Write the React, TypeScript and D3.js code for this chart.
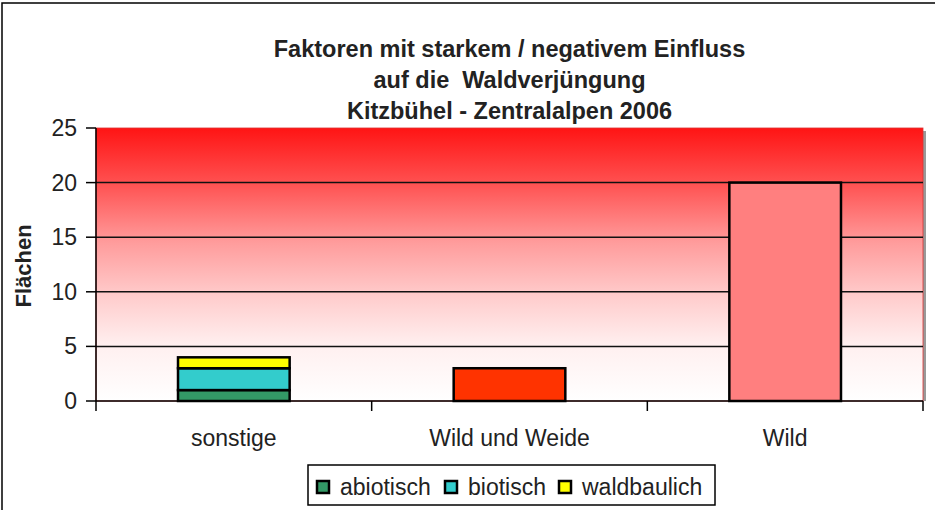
import React from 'react';
import * as d3 from 'd3';

// chart data
const categories = ['sonstige', 'Wild und Weide', 'Wild'];
const stackKeys = ['abiotisch', 'biotisch', 'waldbaulich'];
const stackValues = [1, 2, 1]; // sonstige
const wildWeide = 3;
const wild = 20;
const yTicks = [0, 5, 10, 15, 20, 25];
const titleLines = [
  'Faktoren mit starkem / negativem Einfluss',
  'auf die  Waldverjüngung',
  'Kitzbühel - Zentralalpen 2006',
];
const stackColors = ['#339966', '#33cccc', '#ffff00'];

export default function App() {
  const width = 935;
  const height = 510;
  const margin = { top: 128, right: 12, bottom: 109, left: 96 };
  const w = width - margin.left - margin.right;
  const h = height - margin.top - margin.bottom;
  const font = 'Arial, "Liberation Sans", sans-serif';

  const x = d3.scaleBand().domain(categories).range([0, w]);
  const y = d3.scaleLinear().domain([0, 25]).range([h, 0]);
  const barW = x.bandwidth() * 0.405;
  const barX = (c: string) => x(c)! + (x.bandwidth() - barW) / 2;

  const stacked = d3.stack<number[]>()
    .keys(stackKeys.map((_, i) => String(i)))
    .value((d, k) => d[+k])([stackValues]);

  const legendItems = [
    { label: stackKeys[0], sx: 317, tx: 340 },
    { label: stackKeys[1], sx: 445, tx: 468 },
    { label: stackKeys[2], sx: 559, tx: 582 },
  ];

  return (
    <svg width={width} height={height} style={{ position: 'absolute', left: 0, top: 0 }}>
      <defs>
        <linearGradient id="bg" x1="0" y1="0" x2="0" y2="1">
          <stop offset="0%" stopColor="#ff1414" />
          <stop offset="20%" stopColor="#ff5050" />
          <stop offset="42%" stopColor="#ff9c9c" />
          <stop offset="62%" stopColor="#ffcdcd" />
          <stop offset="80%" stopColor="#fff0f0" />
          <stop offset="100%" stopColor="#ffffff" />
        </linearGradient>
      </defs>
      <rect width={width} height={height} fill="#fff" />
      <rect x={2} y={3} width={width + 10} height={height + 10} fill="none" stroke="#000" strokeWidth={1.5} />

      {titleLines.map((t, i) => (
        <text key={t} x={margin.left + w / 2} y={57 + i * 31} textAnchor="middle"
          style={{ whiteSpace: 'pre' }}
          fontFamily={font} fontWeight="bold" fontSize={23.5} fill="#222">{t}</text>
      ))}

      <g transform={`translate(${margin.left},${margin.top})`}>
        <rect x={w} y={3} width={3} height={h - 3} fill="#999" />
        <rect x={0} y={0} width={w} height={h} fill="url(#bg)" stroke="#d33" strokeWidth={0.8} />
        {yTicks.filter(t => t > 0 && t < 25).map(t => (
          <line key={t} x1={0} x2={w} y1={y(t)} y2={y(t)} stroke="#111" strokeWidth={1.5} />
        ))}

        {stacked.map((s, i) => (
          <rect key={i} x={barX(categories[0])} width={barW}
            y={y(s[0][1])} height={y(s[0][0]) - y(s[0][1])}
            fill={stackColors[i]} stroke="#000" strokeWidth={2.5} />
        ))}
        <rect x={barX(categories[1])} width={barW} y={y(wildWeide)} height={h - y(wildWeide)}
          fill="#ff3300" stroke="#000" strokeWidth={2.5} />
        <rect x={barX(categories[2])} width={barW} y={y(wild)} height={h - y(wild)}
          fill="#ff7f7f" stroke="#000" strokeWidth={2.5} />

        {/* axes */}
        <line x1={0} x2={0} y1={0} y2={h} stroke="#000" strokeWidth={1.5} />
        <line x1={0} x2={w} y1={h} y2={h} stroke="#000" strokeWidth={1.5} />
        {yTicks.map(t => (
          <g key={t}>
            <line x1={-10} x2={0} y1={y(t)} y2={y(t)} stroke="#000" strokeWidth={1.5} />
            <text x={-19} y={y(t) + 8} textAnchor="end" fontFamily={font} fontSize={23} fill="#222">{t}</text>
          </g>
        ))}
        {[...categories.map(c => x(c)!), w].map((px, i) => (
          <line key={i} x1={px} x2={px} y1={h} y2={h + 10} stroke="#000" strokeWidth={1.5} />
        ))}
        {categories.map(c => (
          <text key={c} x={x(c)! + x.bandwidth() / 2} y={h + 45} textAnchor="middle"
            fontFamily={font} fontSize={23} fill="#222">{c}</text>
        ))}
        <text transform={`translate(${31 - margin.left},${266 - margin.top}) rotate(-90)`} textAnchor="middle"
          fontFamily={font} fontWeight="bold" fontSize={22} fill="#222">Flächen</text>
      </g>

      {/* legend */}
      <rect x={308} y={465} width={407} height={40} fill="#fff" stroke="#000" strokeWidth={1.5} />
      {legendItems.map((it, i) => (
        <g key={it.label}>
          <rect x={it.sx} y={481} width={12} height={12} fill={stackColors[i]} stroke="#000" strokeWidth={2.5} />
          <text x={it.tx} y={495} fontFamily={font} fontSize={23} fill="#222">{it.label}</text>
        </g>
      ))}
    </svg>
  );
}
